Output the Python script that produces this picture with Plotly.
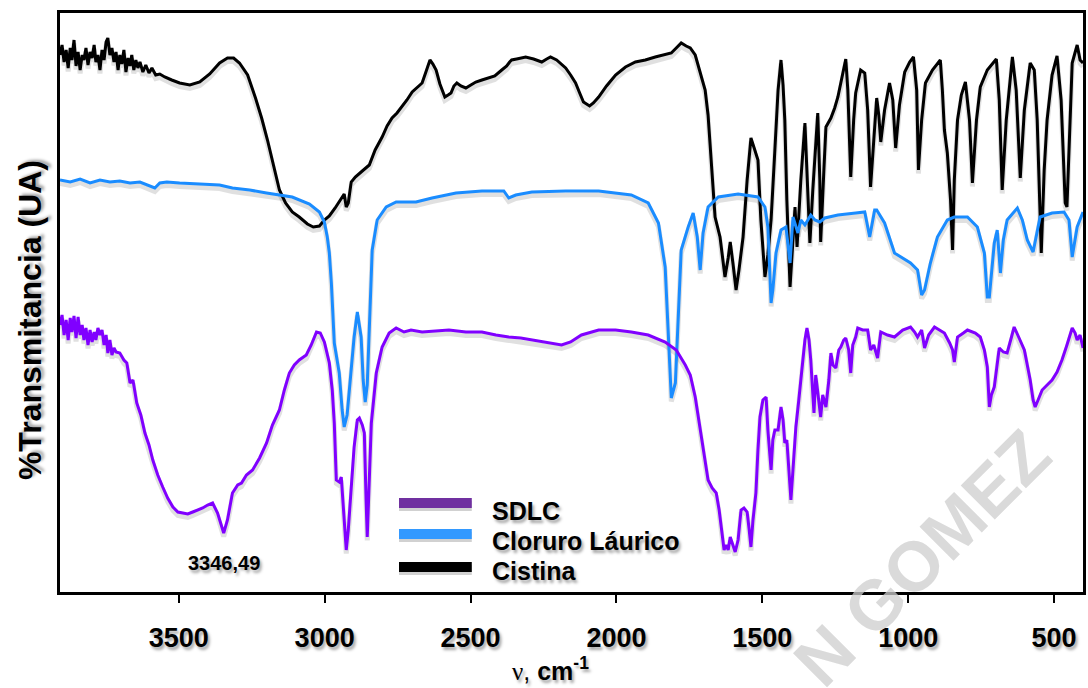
import plotly.graph_objects as go

# FTIR spectra: (wavenumber cm-1, transmittance in arbitrary units)
cistina = [(3907,107.4),(3900,109.4),(3893,106.0),(3886,108.4),(3879,104.8),(3872,108.8),(3866,106.4),(3859,110.4),
 (3852,105.2),(3845,108.0),(3838,104.4),(3831,107.4),(3825,106.4),(3818,108.8),(3811,105.4),(3804,108.0),(3797,106.8),
 (3790,109.4),(3784,106.0),(3777,107.4),(3770,104.4),(3763,108.4),(3756,106.4),(3749,110.0),(3743,110.8),(3736,107.4),
 (3729,108.8),(3722,106.0),(3715,108.0),(3708,104.4),(3702,107.4),(3695,105.6),(3688,108.4),(3681,104.0),(3674,106.8),
 (3667,105.2),(3661,107.4),(3654,104.4),(3647,106.4),(3640,104.8),(3633,106.0),(3623,104.0),(3613,105.4),(3602,103.8),
 (3592,104.8),(3579,103.4),(3565,103.6),(3548,103.0),(3524,102.4),(3497,101.8),(3462,101.4),(3428,102.0),(3394,103.6),
 (3360,105.8),(3333,106.8),(3312,106.8),(3292,105.8),(3264,103.4),(3237,98.8),(3216,94.8),(3196,90.4),(3175,85.4),
 (3155,80.4),(3134,77.8),(3111,76.0),(3087,75.0),(3059,73.6),(3039,73.0),(3018,73.2),(3001,74.4),(2984,75.2),(2964,76.8),
 (2943,78.8),(2933,79.6),(2926,77.0),(2919,77.8),(2909,82.0),(2895,83.0),(2871,84.2),(2847,85.4),(2827,88.4),(2803,91.0),
 (2786,93.2),(2769,94.8),(2752,95.8),(2735,97.0),(2718,98.4),(2700,100.0),(2683,101.0),(2666,101.8),(2653,104.0),
 (2639,106.4),(2629,105.6),(2618,104.4),(2605,101.6),(2588,99.0),(2577,99.4),(2567,99.8),(2557,101.2),(2547,101.8),
 (2533,101.2),(2516,100.8),(2499,101.4),(2482,102.0),(2461,102.4),(2437,102.8),(2417,103.2),(2393,104.4),(2376,105.2),
 (2366,106.0),(2359,106.4),(2342,106.6),(2311,107.0),(2284,106.6),(2256,106.0),(2239,106.6),(2226,107.0),(2205,106.4),
 (2188,105.6),(2174,104.8),(2157,103.4),(2140,101.8),(2126,99.8),(2113,98.0),(2092,97.2),(2079,97.8),(2061,99.0),
 (2034,101.2),(2003,103.4),(1969,105.0),(1935,106.0),(1901,106.4),(1867,107.0),(1839,107.4),(1812,107.8),(1795,108.8),
 (1778,109.8),(1761,109.2),(1747,108.8),(1730,107.4),(1713,104.0),(1696,100.4),(1686,95.4),(1679,89.0),(1672,82.4),
 (1662,75.0),(1645,71.0),(1634,66.0),(1628,63.0),(1617,66.8),(1610,70.0),(1600,65.4),(1590,60.4),(1580,64.4),(1566,71.0),
 (1552,82.4),(1539,90.8),(1528,88.8),(1515,86.4),(1505,74.4),(1491,63.0),(1481,67.4),(1470,74.4),(1457,88.4),(1446,100.4),
 (1436,106.4),(1429,101.4),(1423,94.4),(1416,78.4),(1405,61.0),(1395,70.4),(1388,77.0),(1381,69.0),(1368,82.4),(1354,93.8),
 (1347,82.4),(1337,69.8),(1327,80.4),(1317,90.4),(1310,95.8),(1303,82.4),(1300,70.0),(1289,84.4),(1282,93.0),(1265,94.8),
 (1252,96.8),(1241,99.0),(1228,102.4),(1214,106.6),(1207,100.4),(1197,83.0),(1187,94.4),(1180,99.8),(1163,104.4),
 (1149,103.8),(1139,96.4),(1129,81.0),(1118,90.4),(1108,98.8),(1101,95.4),(1094,90.0),(1081,96.4),(1064,101.8),(1053,98.4),
 (1043,88.8),(1030,97.4),(1012,104.0),(995,106.0),(982,107.0),(971,100.4),(965,84.4),(954,94.4),(941,101.8),(917,104.4),
 (890,106.4),(883,100.4),(876,92.4),(866,87.8),(855,78.4),(848,68.4),(842,82.4),(831,94.4),(818,99.4),(804,102.0),
 (790,94.4),(780,81.8),(766,94.4),(753,101.0),(729,104.4),(698,106.6),(688,98.4),(678,80.4),(664,94.4),(643,107.0),
 (630,100.4),(616,82.8),(602,96.4),(582,105.8),(568,104.4),(558,94.4),(544,67.8),(534,84.4),(524,94.4),(507,103.4),
 (490,107.2),(476,98.4),(462,77.8),(456,77.0),(445,96.4),(438,105.8),(421,109.4),(411,106.4),(401,105.8)]

cloruro_laurico = [(3907,82.4),(3872,82.0),(3838,82.6),(3804,81.8),(3770,82.4),(3736,82.0),(3702,82.2),(3667,81.8),
 (3633,82.0),(3599,81.2),(3582,80.8),(3565,81.8),(3541,82.0),(3497,81.8),(3428,81.6),(3360,81.4),(3316,80.8),(3257,80.4),
 (3199,79.8),(3145,79.4),(3111,79.0),(3052,77.6),(3018,76.0),(3001,74.0),(2991,71.0),(2984,67.8),(2977,61.8),(2967,49.8),
 (2957,46.4),(2950,43.8),(2940,36.4),(2933,33.0),(2923,35.4),(2916,40.4),(2899,51.0),(2888,56.0),(2875,51.0),(2868,42.4),
 (2861,38.0),(2854,41.4),(2847,52.4),(2837,68.4),(2820,74.4),(2789,77.0),(2755,78.0),(2687,78.0),(2632,78.8),(2550,79.8),
 (2461,80.2),(2386,80.2),(2369,78.8),(2345,79.4),(2290,80.0),(2174,80.2),(2061,80.2),(1949,79.4),(1891,77.8),(1856,73.8),
 (1833,65.0),(1822,51.8),(1812,38.8),(1798,41.8),(1788,55.0),(1778,68.4),(1754,73.0),(1737,75.8),(1723,71.0),(1713,64.4),
 (1703,71.8),(1686,77.0),(1651,79.0),(1583,79.6),(1515,79.0),(1491,77.0),(1481,73.0),(1470,57.8),(1464,60.4),(1453,67.8),
 (1436,72.4),(1419,73.0),(1405,65.8),(1395,75.0),(1378,71.8),(1368,74.4),(1354,73.4),(1334,75.4),(1320,74.4),(1303,74.0),
 (1286,74.8),(1241,75.4),(1180,75.8),(1149,76.0),(1132,71.0),(1115,76.4),(1108,76.4),(1081,73.8),(1047,67.8),(1019,66.8),
 (992,65.8),(968,64.4),(954,59.4),(944,60.4),(924,65.8),(900,71.0),(866,74.4),(842,75.0),(797,75.0),(763,73.0),(739,67.8),
 (729,59.0),(722,59.0),(705,69.8),(695,72.4),(684,63.8),(674,70.4),(661,74.4),(626,76.8),(609,74.4),(592,70.4),(572,68.0),
 (548,75.0),(507,75.8),(466,76.0),(449,74.4),(438,67.0),(421,73.0),(401,76.0)]

sdlc = [(3907,53.4),(3900,55.4),(3893,51.4),(3886,54.4),(3879,50.4),(3872,54.8),(3866,52.0),(3859,55.2),(3852,50.8),
 (3845,55.0),(3838,51.4),(3831,53.4),(3825,50.4),(3818,52.8),(3811,49.4),(3804,52.4),(3797,50.0),(3790,52.0),(3784,50.4),
 (3777,52.8),(3770,51.4),(3763,52.4),(3756,49.4),(3749,51.4),(3743,47.8),(3736,50.4),(3729,47.4),(3722,48.8),(3715,48.0),
 (3702,47.8),(3688,46.4),(3678,45.8),(3667,41.8),(3657,42.4),(3644,37.8),(3630,35.4),(3616,31.8),(3602,29.4),(3589,26.4),
 (3572,23.4),(3555,21.0),(3538,18.8),(3520,17.0),(3503,16.0),(3486,15.8),(3469,15.6),(3452,16.0),(3435,16.4),(3418,16.8),
 (3401,17.4),(3384,17.8),(3367,15.8),(3353,13.4),(3346,11.8),(3333,14.4),(3316,19.8),(3298,21.4),(3285,21.8),(3268,23.4),
 (3247,24.4),(3223,26.8),(3199,29.8),(3179,33.4),(3155,36.4),(3138,40.4),(3121,43.8),(3104,45.4),(3087,46.4),(3063,47.4),
 (3046,49.4),(3028,52.0),(3015,51.8),(3001,50.0),(2984,45.8),(2974,40.4),(2967,33.8),(2960,22.4),(2950,22.0),(2943,23.0),
 (2933,14.4),(2926,8.4),(2919,12.4),(2909,19.8),(2899,29.0),(2888,34.4),(2881,34.8),(2871,33.4),(2864,31.8),(2858,18.4),
 (2854,11.0),(2847,22.4),(2840,33.8),(2823,43.8),(2803,49.0),(2779,51.8),(2755,52.8),(2728,52.0),(2704,52.4),(2666,52.0),
 (2618,52.2),(2574,52.4),(2516,52.0),(2461,52.0),(2413,51.4),(2369,51.0),(2328,50.8),(2290,50.4),(2239,49.8),(2188,49.4),
 (2157,50.0),(2120,51.4),(2061,52.4),(2003,52.4),(1949,52.0),(1891,51.4),(1833,50.0),(1795,48.4),(1764,45.4),(1747,43.4),
 (1730,39.0),(1710,31.8),(1696,26.4),(1686,22.4),(1672,20.8),(1658,19.8),(1648,16.4),(1641,13.0),(1631,8.4),(1624,9.4),
 (1617,8.4),(1610,11.0),(1600,9.2),(1593,8.0),(1583,10.4),(1573,16.4),(1563,16.8),(1552,16.0),(1545,12.4),(1539,9.0),
 (1532,14.4),(1522,19.8),(1515,28.4),(1508,35.0),(1498,38.4),(1487,39.0),(1481,32.4),(1470,24.4),(1464,30.4),(1457,32.4),
 (1446,32.4),(1436,37.0),(1429,34.4),(1423,29.8),(1416,30.4),(1409,24.4),(1402,18.4),(1395,24.4),(1385,33.0),(1375,38.4),
 (1361,46.4),(1354,50.4),(1347,52.8),(1340,50.4),(1334,46.4),(1327,38.4),(1323,35.8),(1317,43.4),(1310,39.4),(1300,35.0),
 (1293,39.4),(1282,37.0),(1272,42.4),(1265,47.8),(1258,45.4),(1248,44.8),(1238,48.4),(1231,49.0),(1221,50.4),(1214,50.8),
 (1204,48.4),(1197,43.8),(1190,49.4),(1180,51.0),(1173,52.8),(1156,52.4),(1139,52.4),(1129,48.4),(1118,49.4),(1105,46.8),
 (1094,52.0),(1071,51.4),(1047,51.0),(1019,52.4),(992,53.0),(978,52.0),(968,51.0),(954,52.4),(944,48.8),(930,51.4),
 (910,53.0),(893,52.4),(876,51.8),(858,49.8),(848,48.4),(842,46.0),(831,51.0),(811,51.8),(797,52.4),(770,51.8),(753,51.0),
 (739,48.4),(729,45.0),(722,37.0),(715,39.4),(705,41.0),(695,46.4),(688,48.8),(674,48.0),(661,47.8),(647,50.8),(637,53.0),
 (620,50.8),(602,48.4),(592,45.4),(582,42.4),(572,38.4),(565,37.0),(555,38.4),(541,40.4),(524,41.4),(507,42.4),(490,44.0),
 (473,46.4),(456,49.4),(438,52.8),(428,51.8),(421,50.4),(411,51.4),(401,48.8)]

series_names = ["Cistina", "Cloruro Láurico", "SDLC"]
series_data = [cistina, cloruro_laurico, sdlc]
line_colors = ["#000000", "#1a8cff", "#8000ff"]
legend_order = ["SDLC", "Cloruro Láurico", "Cistina"]
legend_colors = ["#7030a0", "#3399ff", "#000000"]
x_ticks = [3500, 3000, 2500, 2000, 1500, 1000, 500]
peak_label = (3346, 11.8, "3346,49")

FONT = "Liberation Sans, Arial, Helvetica, sans-serif"
SHADOW = "2px 3px 3px rgba(0,0,0,0.35)"

fig = go.Figure()
# soft drop shadows under the spectra
for data in series_data:
    xs = [p[0] for p in data]
    ys = [p[1] - 0.7 for p in data]
    fig.add_trace(go.Scatter(x=xs, y=ys, mode="lines", showlegend=False, hoverinfo="skip",
                             line=dict(color="rgba(0,0,0,0.12)", width=5)))
for name, data, col in zip(series_names, series_data, line_colors):
    fig.add_trace(go.Scatter(x=[p[0] for p in data], y=[p[1] for p in data], mode="lines",
                             name=name, showlegend=False, line=dict(color=col, width=3)))

L, R, T, B = 60, 2, 13, 96
W, H = 1088, 688
pw, ph = W - L - R, H - T - B

def px(x):
    return (x - L) / pw

def py(y):
    return (H - B - y) / ph

shapes = []
annotations = []
# manual legend
for i, (lab, col) in enumerate(zip(legend_order, legend_colors)):
    sy = [503, 534, 567][i]
    ty = [511, 541, 571][i]
    shapes.append(dict(type="line", xref="paper", yref="paper", x0=px(400), x1=px(473),
                       y0=py(sy + 3), y1=py(sy + 3), line=dict(color="rgba(0,0,0,0.18)", width=10)))
    shapes.append(dict(type="line", xref="paper", yref="paper", x0=px(400), x1=px(473),
                       y0=py(sy), y1=py(sy), line=dict(color=col, width=10)))
    annotations.append(dict(text="<b>%s</b>" % lab, xref="paper", yref="paper", x=px(491), y=py(ty),
                            xanchor="left", yanchor="middle", showarrow=False,
                            font=dict(family=FONT, size=25, color="black", shadow=SHADOW)))

annotations.append(dict(text="<b>%s</b>" % peak_label[2], x=peak_label[0], y=peak_label[1],
                        xref="x", yref="y", yshift=-30, showarrow=False,
                        font=dict(family=FONT, size=20, color="black", shadow=SHADOW)))
annotations.append(dict(text="<b>%Transmitancia (UA)</b>", xref="paper", yref="paper",
                        x=px(30), y=py(320), textangle=-90, showarrow=False,
                        xanchor="center", yanchor="middle",
                        font=dict(family=FONT, size=32, color="black", shadow=SHADOW)))
annotations.append(dict(text="<span style='font-family:Liberation Serif;font-weight:normal'>ν</span>, <b>cm<sup>-1</sup></b>",
                        xref="paper", yref="paper", x=px(552), y=py(687), showarrow=False,
                        xanchor="center", yanchor="bottom",
                        font=dict(family=FONT, size=25, color="black", shadow=SHADOW)))
# watermark
annotations.append(dict(text="<b>N GOMEZ</b>", xref="paper", yref="paper", x=px(925), y=py(558),
                        textangle=-45, showarrow=False, xanchor="center", yanchor="middle",
                        font=dict(family=FONT, size=70, color="rgba(205,205,205,0.75)")))

fig.update_layout(
    width=W, height=H, margin=dict(l=L, r=R, t=T, b=B),
    paper_bgcolor="white", plot_bgcolor="white",
    shapes=shapes, annotations=annotations, showlegend=False,
    xaxis=dict(range=[3907, 401], tickvals=x_ticks, ticktext=["<b>%d</b>" % v for v in x_ticks],
               ticks="outside", ticklen=8, tickwidth=1.5, tickcolor="black",
               showline=True, linecolor="black", linewidth=3, mirror=True,
               showgrid=False, zeroline=False, ticklabelstandoff=12,
               tickfont=dict(family=FONT, size=27, color="black", shadow=SHADOW)),
    yaxis=dict(range=[0, 115.8], showticklabels=False, ticks="", showgrid=False, zeroline=False,
               showline=True, linecolor="black", linewidth=3, mirror=True),
)

fig.write_html("out.html")
